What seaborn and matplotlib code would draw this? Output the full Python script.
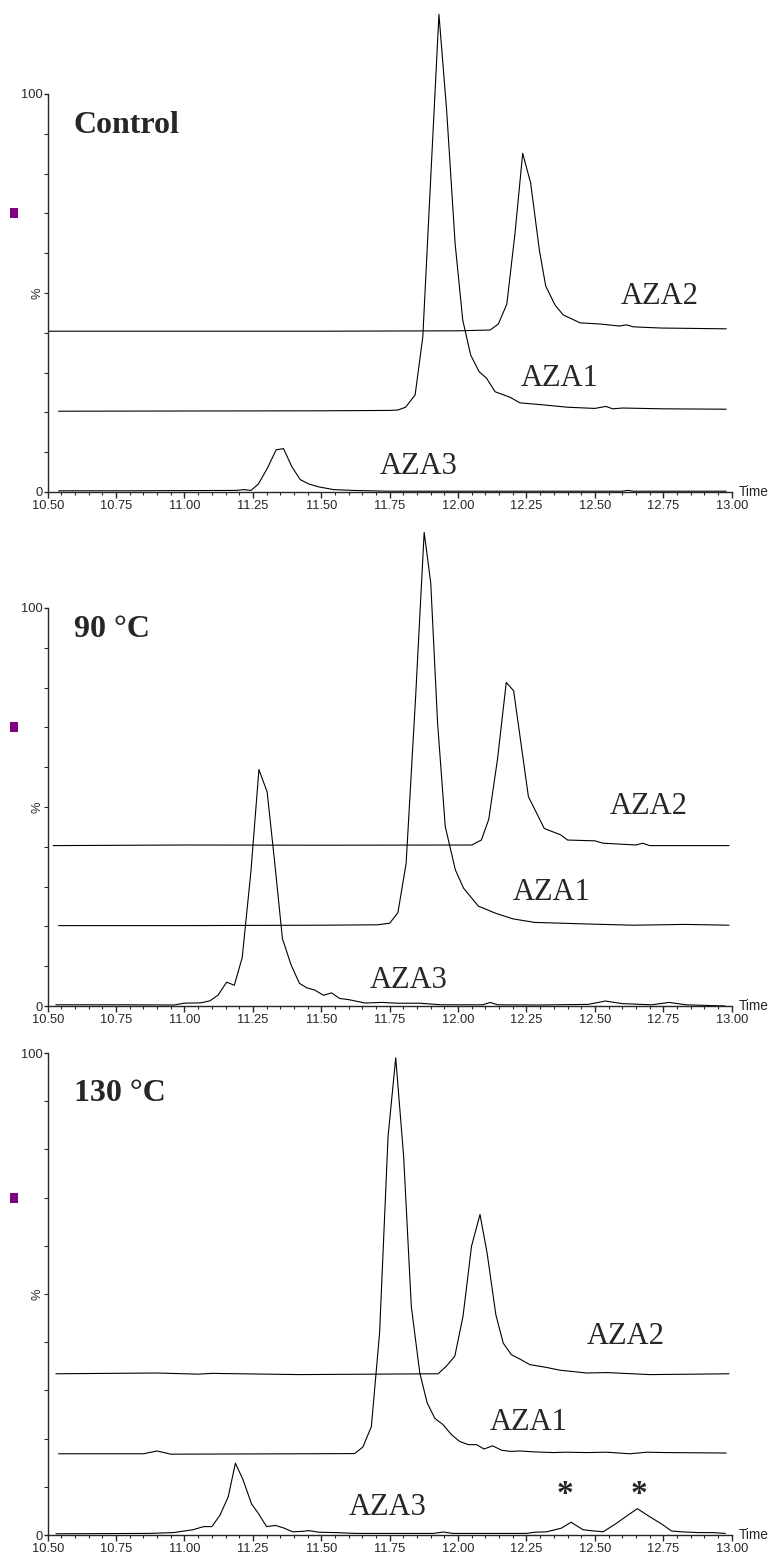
import matplotlib
matplotlib.use("Agg")
import numpy as np
import pandas as pd
import matplotlib.pyplot as plt
import seaborn as sns
from matplotlib import font_manager
from matplotlib.patches import Rectangle
from matplotlib.ticker import MultipleLocator, FixedLocator, FormatStrFormatter
from matplotlib.transforms import blended_transform_factory

# ---- data (retention time in min, relative intensity in % of each panel's axis) ----
ctrl_aza3_t = [10.54, 10.80, 11.00, 11.19, 11.216, 11.243, 11.27, 11.303, 11.335, 11.362, 11.392,
               11.423, 11.455, 11.49, 11.545, 11.617, 11.74, 12.00, 12.30, 12.60, 12.62, 12.64, 12.98]
ctrl_aza3_v = [0.3, 0.3, 0.35, 0.4, 0.6, 0.4, 2.0, 6.0, 10.6, 10.9, 6.4,
               3.1, 2.0, 1.3, 0.6, 0.4, 0.2, 0.2, 0.2, 0.2, 0.4, 0.2, 0.2]
ctrl_aza1_t = [10.54, 11.00, 11.50, 11.75, 11.78, 11.808, 11.843, 11.871, 11.90, 11.93, 11.958,
               11.989, 12.017, 12.046, 12.077, 12.104, 12.135, 12.19, 12.226, 12.31, 12.40, 12.50,
               12.54, 12.565, 12.60, 12.75, 12.98]
ctrl_aza1_v = [0.3, 0.35, 0.4, 0.5, 0.6, 1.3, 4.4, 19.0, 59.0, 100.0, 76.0,
               42.5, 23.2, 14.4, 10.2, 8.6, 5.2, 3.8, 2.4, 1.9, 1.3, 1.0,
               1.5, 0.9, 1.1, 0.9, 0.8]
ctrl_aza2_t = [10.50, 11.00, 11.50, 12.00, 12.117, 12.147, 12.178, 12.208, 12.236, 12.265, 12.297,
               12.32, 12.354, 12.384, 12.446, 12.52, 12.59, 12.615, 12.64, 12.74, 12.98]
ctrl_aza2_v = [0.4, 0.4, 0.4, 0.5, 0.7, 2.2, 7.2, 25.0, 45.1, 37.7, 20.8,
               11.8, 7.0, 4.5, 2.5, 2.2, 1.7, 2.0, 1.5, 1.2, 1.0]

h90_aza3_t = [10.53, 10.80, 10.962, 10.998, 11.06, 11.093, 11.123, 11.154, 11.182, 11.211, 11.243,
              11.272, 11.302, 11.329, 11.358, 11.39, 11.42, 11.446, 11.476, 11.508, 11.537, 11.567,
              11.60, 11.66, 11.723, 11.777, 11.86, 11.938, 12.09, 12.117, 12.144, 12.296, 12.475,
              12.538, 12.60, 12.708, 12.771, 12.833, 12.977]
h90_aza3_v = [0.3, 0.3, 0.25, 0.7, 0.8, 1.3, 2.75, 6.0, 5.2, 12.2, 34.0,
              59.4, 53.8, 36.5, 16.9, 10.25, 5.7, 4.6, 4.0, 2.7, 3.3, 1.9,
              1.6, 0.75, 0.9, 0.7, 0.7, 0.3, 0.3, 0.9, 0.3, 0.25, 0.4,
              1.25, 0.6, 0.3, 0.9, 0.3, 0.0]
h90_aza1_t = [10.54, 11.00, 11.50, 11.705, 11.75, 11.78, 11.81, 11.845, 11.876, 11.90, 11.925,
              11.953, 11.99, 12.02, 12.074, 12.137, 12.20, 12.28, 12.475, 12.64, 12.83, 12.99]
h90_aza1_v = [0.2, 0.2, 0.3, 0.4, 0.8, 3.45, 15.8, 58.0, 99.0, 86.3, 51.1,
              25.1, 14.2, 9.6, 5.1, 3.3, 1.9, 1.0, 0.6, 0.3, 0.5, 0.3]
h90_aza2_t = [10.52, 11.00, 11.50, 12.05, 12.085, 12.112, 12.144, 12.176, 12.203, 12.257, 12.315,
              12.375, 12.40, 12.50, 12.53, 12.65, 12.675, 12.70, 12.99]
h90_aza2_v = [0.3, 0.45, 0.4, 0.45, 1.7, 6.9, 22.0, 41.3, 39.2, 12.6, 4.6,
              3.0, 1.7, 1.5, 0.9, 0.45, 0.9, 0.3, 0.3]

h130_aza3_t = [10.53, 10.87, 10.96, 11.03, 11.07, 11.10, 11.13, 11.16, 11.186, 11.213, 11.245,
               11.27, 11.30, 11.333, 11.365, 11.395, 11.43, 11.455, 11.49, 11.553, 11.625, 11.91,
               11.947, 11.98, 12.25, 12.28, 12.323, 12.377, 12.413, 12.457, 12.484, 12.53, 12.574,
               12.613, 12.655, 12.70, 12.745, 12.78, 12.815, 12.878, 12.93, 12.977]
h130_aza3_v = [0.25, 0.33, 0.5, 1.08, 1.74, 1.74, 4.14, 7.95, 14.9, 11.6, 6.46,
               4.47, 1.74, 1.99, 1.41, 0.66, 0.75, 0.91, 0.58, 0.5, 0.33, 0.33,
               0.62, 0.33, 0.33, 0.58, 0.66, 1.41, 2.65, 1.08, 0.91, 0.66, 2.24,
               3.81, 5.46, 3.81, 2.24, 0.83, 0.66, 0.5, 0.5, 0.33]
h130_aza1_t = [10.54, 10.85, 10.90, 10.95, 11.42, 11.622, 11.652, 11.683, 11.713, 11.744, 11.772,
               11.801, 11.829, 11.86, 11.887, 11.915, 11.945, 11.976, 12.006, 12.037, 12.067, 12.095,
               12.126, 12.159, 12.19, 12.226, 12.274, 12.348, 12.396, 12.47, 12.543, 12.628, 12.69,
               12.76, 12.98]
h130_aza1_v = [0.25, 0.25, 0.83, 0.17, 0.25, 0.29, 1.66, 5.88, 25.3, 66.1, 82.4,
               61.9, 30.8, 17.0, 10.8, 7.6, 6.3, 4.2, 2.8, 2.15, 2.15, 1.24,
               1.9, 0.99, 0.75, 0.83, 0.66, 0.5, 0.58, 0.5, 0.58, 0.25, 0.58,
               0.5, 0.41]
h130_aza2_t = [10.53, 10.90, 11.05, 11.10, 11.42, 11.927, 11.957, 11.988, 12.018, 12.049, 12.08,
               12.106, 12.138, 12.165, 12.195, 12.226, 12.262, 12.323, 12.372, 12.47, 12.543, 12.70,
               12.87, 12.99]
h130_aza2_v = [0.25, 0.41, 0.17, 0.33, 0.08, 0.25, 1.82, 3.89, 12.2, 26.7, 33.3,
               25.3, 12.5, 6.6, 4.2, 3.3, 2.15, 1.57, 0.99, 0.41, 0.5, 0.08,
               0.17, 0.25]

panel_titles = ["Control", "90 \u00b0C", "130 \u00b0C"]
trace_names = ["AZA3", "AZA1", "AZA2"]
trace_offsets = [[0, 20, 40], [0, 20, 40], [0, 16.6, 33.2]]
star_times = [12.39, 12.66]

# ---- style ----
sns.set_style("ticks")
names = {f.name for f in font_manager.fontManager.ttflist}
tick_font = "Liberation Sans Narrow" if "Liberation Sans Narrow" in names else "Liberation Sans"
tick_size = 10.5 if tick_font == "Liberation Sans Narrow" else 9.3
plt.rcParams["font.family"] = [tick_font, "DejaVu Sans"]
serif = ["Liberation Serif", "DejaVu Serif"]

W, H = 769, 1562
fig = plt.figure(figsize=(W / 100, H / 100), dpi=100)

# (pixel row of zero, pixels per %, y max, traces, label positions, title y, star y)
panels = [
    (492, 3.98, 122,
     [(ctrl_aza3_t, ctrl_aza3_v), (ctrl_aza1_t, ctrl_aza1_v), (ctrl_aza2_t, ctrl_aza2_v)],
     [(11.857, 6.3), (12.373, 28.4), (12.738, 49.2)], 92),
    (1006, 3.98, 122,
     [(h90_aza3_t, h90_aza3_v), (h90_aza1_t, h90_aza1_v), (h90_aza2_t, h90_aza2_v)],
     [(11.82, 6.5), (12.343, 28.4), (12.697, 50.0)], 94.5),
    (1535, 4.82, 101,
     [(h130_aza3_t, h130_aza3_v), (h130_aza1_t, h130_aza1_v), (h130_aza2_t, h130_aza2_v)],
     [(11.744, 5.8), (12.257, 23.4), (12.614, 41.1)], 91.7),
]

for i, (zero_px, px, ymax, traces, label_pos, title_y) in enumerate(panels):
    ax = fig.add_axes([47.7 / W, 1 - zero_px / H, 684 / W, ymax * px / H])
    ax.set_facecolor("none")
    for (t, v), off, name, (lx, ly) in zip(traces, trace_offsets[i], trace_names, label_pos):
        df = pd.DataFrame({"time": t, "signal": np.asarray(v) + off})
        sns.lineplot(data=df, x="time", y="signal", ax=ax, color="black",
                     linewidth=0.8, estimator=None, sort=False)
        ax.text(lx, ly, name, family=serif, fontsize=22, ha="center", va="center")

    ax.set_xlim(10.5, 13.0)
    ax.set_ylim(0, ymax)
    ax.set_xlabel("")
    ax.set_ylabel("")
    for s in ["top", "right"]:
        ax.spines[s].set_visible(False)
    ax.spines["left"].set_bounds(0, 100)
    ax.spines["bottom"].set_bounds(10.5, 13.0)
    ax.spines["left"].set_linewidth(1.0)
    ax.spines["bottom"].set_linewidth(1.0)

    ax.xaxis.set_major_locator(MultipleLocator(0.25))
    ax.xaxis.set_minor_locator(MultipleLocator(0.05))
    ax.xaxis.set_major_formatter(FormatStrFormatter("%.2f"))
    ax.yaxis.set_major_locator(FixedLocator([0, 100]))
    ax.yaxis.set_minor_locator(FixedLocator(list(range(10, 100, 10))))
    ax.tick_params(axis="x", which="major", length=4, width=1, pad=1.5, labelsize=tick_size)
    ax.tick_params(axis="x", which="minor", length=2.2, width=0.8)
    ax.tick_params(axis="y", which="major", length=3, width=1, pad=0.5, labelsize=tick_size)
    ax.tick_params(axis="y", which="minor", length=3, width=0.8)

    tr = blended_transform_factory(ax.transAxes, ax.transData)
    ax.text(1.0107, 0, "Time", transform=tr, ha="left", va="center", fontsize=tick_size + 0.5)
    ax.text(-0.0142, 50, "%", transform=tr, ha="center", va="center", rotation=90,
            fontsize=tick_size)
    ax.text(10.596, title_y, panel_titles[i], family=serif, fontsize=23,
            fontweight="bold", ha="left", va="center")
    if i == 2:
        for st in star_times:
            ax.text(st, 8.3, "*", family=serif, fontsize=24, fontweight="bold",
                    ha="center", va="center")

    # small marker square left of the axis
    sq_y = 1 - (zero_px - 70 * px + 5) / H
    fig.add_artist(Rectangle((10 / W, sq_y), 8 / W, 10 / H, transform=fig.transFigure,
                             facecolor="#800080", edgecolor="none"))

fig.savefig("out.png", dpi=100)
